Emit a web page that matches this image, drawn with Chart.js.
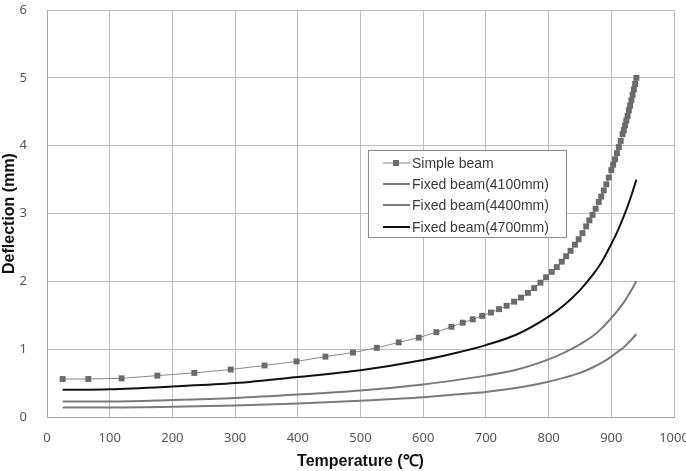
<!DOCTYPE html>
<html>
<head>
    <meta charset="UTF-8">
    <title>Deflection vs Temperature</title>
    <script src="https://cdn.jsdelivr.net/npm/chart.js"></script>
    <style>
        body {
            margin: 0;
            padding: 0;
            background: white;
        }
        #box {
            width: 686px;
            height: 471px;
        }
    </style>
</head>
<body>
    <div id="box"><canvas id="myChart" width="686" height="471"></canvas></div>

    <script>
        // Simple beam (markers)
        var simpleTemp = [25, 66, 119, 176, 235, 293, 347, 398, 444, 488, 526, 561, 593, 621, 645, 663, 679,
            694, 708, 721, 733, 745, 756, 767, 777, 787, 796, 805, 813, 821, 828, 835, 842, 848, 854, 860,
            865, 870, 875, 880, 884, 888, 892, 896, 900, 903, 906, 909, 912, 915, 918, 920, 922, 924, 926,
            928, 930, 932, 934, 936, 938, 940];
        var simpleDefl = [0.56, 0.56, 0.57, 0.61, 0.65, 0.70, 0.76, 0.82, 0.89, 0.95, 1.02, 1.10, 1.17, 1.25, 1.33, 1.39, 1.44,
            1.49, 1.54, 1.59, 1.64, 1.70, 1.76, 1.83, 1.90, 1.98, 2.06, 2.14, 2.21, 2.29, 2.37, 2.45, 2.54, 2.62, 2.71, 2.81,
            2.90, 2.98, 3.07, 3.17, 3.25, 3.34, 3.43, 3.53, 3.64, 3.72, 3.80, 3.89, 3.98, 4.07, 4.17, 4.23, 4.30, 4.37, 4.44,
            4.52, 4.59, 4.67, 4.75, 4.83, 4.91, 5.00];

        // Fixed beams (lines)
        var fixedTemp = [25, 100, 200, 300, 400, 500, 600, 650, 700, 750, 800, 825, 850, 870, 885, 900, 910, 920, 930, 940];
        var fixed4100 = [0.14, 0.14, 0.15, 0.17, 0.20, 0.24, 0.29, 0.33, 0.37, 0.43, 0.52, 0.58, 0.65, 0.73, 0.80, 0.89, 0.96, 1.03, 1.12, 1.22];
        var fixed4400 = [0.23, 0.23, 0.25, 0.28, 0.33, 0.39, 0.48, 0.54, 0.61, 0.70, 0.85, 0.95, 1.07, 1.19, 1.31, 1.46, 1.57, 1.69, 1.84, 2.00];
        var fixed4700 = [0.40, 0.41, 0.45, 0.50, 0.59, 0.69, 0.84, 0.94, 1.06, 1.22, 1.48, 1.65, 1.87, 2.09, 2.29, 2.55, 2.74, 2.96, 3.21, 3.50];

        var xTicks = [0, 100, 200, 300, 400, 500, 600, 700, 800, 900, 1000];
        var yTicks = [0, 1, 2, 3, 4, 5, 6];

        var seriesNames = ["Simple beam", "Fixed beam(4100mm)", "Fixed beam(4400mm)", "Fixed beam(4700mm)"];

        function toPoints(xs, ys) {
            return xs.map(function(x, i) {
                return { x: x, y: ys[i] };
            });
        }

        // legend drawn inside the plot, like the original
        var boxLegend = {
            id: 'boxLegend',
            afterDatasetsDraw: function(chart) {
                var ctx = chart.ctx;
                ctx.save();
                ctx.fillStyle = 'white';
                ctx.fillRect(368, 150, 199, 88);
                ctx.strokeStyle = '#8c8c8c';
                ctx.lineWidth = 1;
                ctx.strokeRect(368.5, 150.5, 198, 87);
                var rows = [163, 184, 205, 227];
                chart.data.datasets.forEach(function(ds, i) {
                    var y = rows[i];
                    ctx.strokeStyle = ds.borderColor;
                    ctx.lineWidth = i == 0 ? 1 : 2;
                    ctx.beginPath();
                    ctx.moveTo(383, y);
                    ctx.lineTo(410, y);
                    ctx.stroke();
                    if (i == 0) {
                        ctx.fillStyle = ds.pointBackgroundColor;
                        ctx.fillRect(393, y - 3, 6, 6);
                    }
                    ctx.fillStyle = '#3a3a3a';
                    ctx.font = '14px "Liberation Sans", Arial, sans-serif';
                    ctx.textBaseline = 'middle';
                    ctx.fillText(ds.label, 412, y + 1);
                });
                ctx.restore();
            }
        };

        var ctx = document.getElementById("myChart").getContext('2d');
        var myChart = new Chart(ctx, {
            type: 'line',
            data: {
                datasets: [
                    {
                        label: seriesNames[0],
                        data: toPoints(simpleTemp, simpleDefl),
                        borderColor: '#8a8a8a',
                        borderWidth: 1,
                        pointStyle: 'rect',
                        pointRadius: 4.2,
                        pointBackgroundColor: '#6b6b6b',
                        pointBorderColor: '#6b6b6b',
                        pointBorderWidth: 0,
                        tension: 0
                    },
                    {
                        label: seriesNames[1],
                        data: toPoints(fixedTemp, fixed4100),
                        borderColor: '#7a7a7a',
                        borderWidth: 2,
                        pointRadius: 0,
                        cubicInterpolationMode: 'monotone'
                    },
                    {
                        label: seriesNames[2],
                        data: toPoints(fixedTemp, fixed4400),
                        borderColor: '#7a7a7a',
                        borderWidth: 2,
                        pointRadius: 0,
                        cubicInterpolationMode: 'monotone'
                    },
                    {
                        label: seriesNames[3],
                        data: toPoints(fixedTemp, fixed4700),
                        borderColor: '#111111',
                        borderWidth: 2,
                        pointRadius: 0,
                        cubicInterpolationMode: 'monotone'
                    }
                ]
            },
            options: {
                responsive: false,
                animation: false,
                layout: {
                    padding: { top: 10, right: 12, left: 0, bottom: 0 }
                },
                plugins: {
                    legend: { display: false },
                    tooltip: { enabled: false }
                },
                scales: {
                    x: {
                        type: 'linear',
                        min: 0,
                        max: 1000,
                        afterBuildTicks: function(scale) {
                            scale.ticks = xTicks.map(function(v) { return { value: v }; });
                        },
                        afterFit: function(scale) {
                            scale.height = 54;
                            scale.paddingLeft = 0;
                            scale.paddingRight = 0;
                        },
                        grid: { color: '#bdbdbd', drawTicks: false },
                        border: { color: '#a6a6a6' },
                        ticks: {
                            padding: 13,
                            color: '#555555',
                            maxRotation: 0,
                            autoSkip: false,
                            callback: function(v) { return String(v); },
                            font: { family: '"Noto Sans", sans-serif', size: 13 }
                        },
                        title: {
                            display: true,
                            text: 'Temperature (℃)',
                            color: '#111111',
                            padding: { top: 10, bottom: 0 },
                            font: { family: '"Liberation Sans", Arial, sans-serif', size: 16, weight: 'bold' }
                        }
                    },
                    y: {
                        min: 0,
                        max: 6,
                        afterBuildTicks: function(scale) {
                            scale.ticks = yTicks.map(function(v) { return { value: v }; });
                        },
                        afterFit: function(scale) {
                            scale.width = 47;
                            scale.paddingTop = 0;
                            scale.paddingBottom = 0;
                        },
                        grid: { color: '#bdbdbd', drawTicks: false },
                        border: { color: '#a6a6a6' },
                        ticks: {
                            padding: 20,
                            color: '#555555',
                            font: { family: '"Noto Sans", sans-serif', size: 13 }
                        },
                        title: {
                            display: true,
                            text: 'Deflection (mm)',
                            color: '#111111',
                            padding: { top: 0, bottom: 0 },
                            font: { family: '"Liberation Sans", Arial, sans-serif', size: 16, weight: 'bold' }
                        }
                    }
                }
            },
            plugins: [boxLegend]
        });
    </script>
</body>
</html>
